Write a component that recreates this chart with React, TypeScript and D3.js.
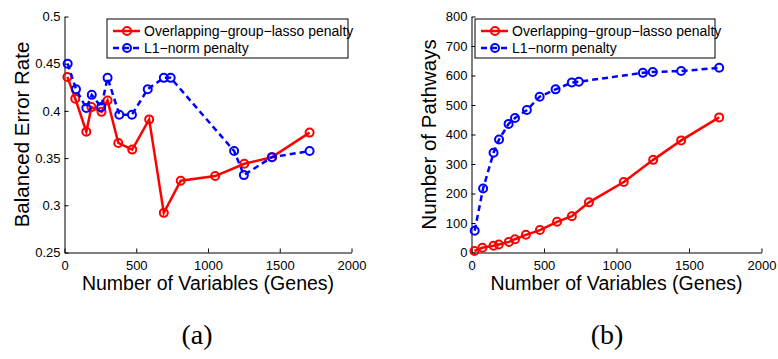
import { useEffect, useRef } from 'react';
import * as d3 from 'd3';

// x values (number of genes) for each method
const groupX = [20, 75, 152, 188, 258, 300, 375, 472, 590, 692, 810, 1050, 1253, 1446, 1708];
const l1X = [22, 80, 152, 190, 256, 300, 382, 470, 580, 692, 740, 1182, 1250, 1446, 1708];

// panel (a): balanced error rate
const groupBER = [0.436, 0.413, 0.378, 0.404, 0.399, 0.411, 0.366, 0.359, 0.391, 0.292, 0.326, 0.331, 0.344, 0.351, 0.377];
const l1BER = [0.45, 0.423, 0.403, 0.417, 0.404, 0.435, 0.396, 0.396, 0.423, 0.435, 0.435, 0.3575, 0.332, 0.351, 0.3575];

// panel (b): number of pathways
const groupPathways = [5, 16, 23, 27, 36, 45, 60, 76, 104, 123, 170, 239, 314, 380, 458];
const l1Pathways = [74, 217, 338, 383, 436, 456, 483, 528, 553, 576, 579, 609, 612, 615, 626];

const xTicks = [0, 500, 1000, 1500, 2000];
const berTicks = [0.25, 0.3, 0.35, 0.4, 0.45, 0.5];
const pathwayTicks = [0, 100, 200, 300, 400, 500, 600, 700, 800];

const seriesNames = ['Overlapping\u2212group\u2212lasso penalty', 'L1\u2212norm penalty'];

const FONT = '"Liberation Sans", Arial, Helvetica, sans-serif';

interface PanelSpec {
    left: number;
    right: number;
    yDomain: [number, number];
    yTicks: number[];
    yFormat: (d: number) => string;
    yLabel: string;
    yLabelX: number;
    red: number[];
    blue: number[];
    caption: string;
    captionX: number;
    legendX: number;
    legendW: number;
}

export default function App() {
    const svgRef = useRef<SVGSVGElement>(null);

    useEffect(() => {
        if (!svgRef.current) return;
        const svg = d3.select(svgRef.current);
        svg.selectAll('*').remove();

        const top = 16.5;
        const bottom = 252.5;

        const panels: PanelSpec[] = [
            {
                left: 64.5, right: 351.5,
                yDomain: [0.25, 0.5], yTicks: berTicks,
                yFormat: d => String(+d.toFixed(2)),
                yLabel: 'Balanced Error Rate', yLabelX: 28.5,
                red: groupBER, blue: l1BER,
                caption: '(a)', captionX: 197, legendX: 107, legendW: 241
            },
            {
                left: 471.5, right: 761.5,
                yDomain: [0, 800], yTicks: pathwayTicks,
                yFormat: d => String(d),
                yLabel: 'Number of Pathways', yLabelX: 436,
                red: groupPathways, blue: l1Pathways,
                caption: '(b)', captionX: 607, legendX: 475, legendW: 240
            }
        ];

        panels.forEach(p => {
            const x = d3.scaleLinear().domain([0, 2000]).range([p.left, p.right]);
            const y = d3.scaleLinear().domain(p.yDomain).range([bottom, top]);
            const g = svg.append('g');

            // Axes (MATLAB style: ticks point inward)
            g.append('g')
                .attr('transform', `translate(0,${bottom})`)
                .call(d3.axisBottom(x).tickValues(xTicks).tickFormat(d3.format('d')).tickSize(-4).tickSizeOuter(0).tickPadding(8))
                .call(a => a.selectAll('.tick text')
                    .attr('font-size', '13px').attr('font-family', FONT).attr('fill', '#000'));
            g.append('g')
                .attr('transform', `translate(${p.left},0)`)
                .call(d3.axisLeft(y).tickValues(p.yTicks).tickFormat(d => p.yFormat(+d)).tickSize(-4).tickSizeOuter(0).tickPadding(4))
                .call(a => a.selectAll('.tick text')
                    .attr('font-size', '13px').attr('font-family', FONT).attr('fill', '#000'));

            // Axis labels
            g.append('text')
                .attr('x', (p.left + p.right) / 2)
                .attr('y', 290)
                .attr('text-anchor', 'middle')
                .attr('font-family', FONT)
                .attr('font-size', '19.5px')
                .text('Number of Variables (Genes)');
            g.append('text')
                .attr('transform', `translate(${p.yLabelX},${(top + bottom) / 2}) rotate(-90)`)
                .attr('text-anchor', 'middle')
                .attr('font-family', FONT)
                .attr('font-size', '20.5px')
                .text(p.yLabel);

            // Lines and markers
            const series = [
                { xs: groupX, ys: p.red, color: '#ff0000', dash: null },
                { xs: l1X, ys: p.blue, color: '#0000ff', dash: '6,4' }
            ];
            series.forEach(s => {
                const pts: [number, number][] = s.xs.map((v, i) => [x(v), y(s.ys[i])]);
                g.append('path')
                    .attr('d', d3.line()(pts))
                    .attr('fill', 'none')
                    .attr('stroke', s.color)
                    .attr('stroke-width', 2.5)
                    .attr('stroke-dasharray', s.dash);
                g.selectAll(null)
                    .data(pts)
                    .enter()
                    .append('circle')
                    .attr('cx', d => d[0])
                    .attr('cy', d => d[1])
                    .attr('r', 4)
                    .attr('fill', 'none')
                    .attr('stroke', s.color)
                    .attr('stroke-width', 2);
            });

            // Legend
            const lg = g.append('g').attr('transform', `translate(${p.legendX},19)`);
            lg.append('rect')
                .attr('width', p.legendW)
                .attr('height', 39)
                .attr('fill', '#fff')
                .attr('stroke', '#000')
                .attr('stroke-width', 1);
            series.forEach((s, i) => {
                const ly = 12 + i * 17;
                lg.append('line')
                    .attr('x1', 6).attr('x2', 33)
                    .attr('y1', ly).attr('y2', ly)
                    .attr('stroke', s.color)
                    .attr('stroke-width', 2.5)
                    .attr('stroke-dasharray', s.dash);
                lg.append('circle')
                    .attr('cx', 20).attr('cy', ly).attr('r', 4)
                    .attr('fill', 'none')
                    .attr('stroke', s.color)
                    .attr('stroke-width', 2);
                lg.append('text')
                    .attr('x', 37).attr('y', ly + 5)
                    .attr('font-family', FONT)
                    .attr('font-size', '14px')
                    .text(seriesNames[i]);
            });

            // Caption
            g.append('text')
                .attr('x', p.captionX)
                .attr('y', 344)
                .attr('text-anchor', 'middle')
                .attr('font-family', '"Liberation Serif", "DejaVu Serif", serif')
                .attr('font-size', '28px')
                .text(p.caption);
        });
    }, []);

    return (
        <svg
            ref={svgRef}
            width={778}
            height={359}
            style={{ position: 'absolute', left: 0, top: 0, background: '#fff' }}
        />
    );
}
